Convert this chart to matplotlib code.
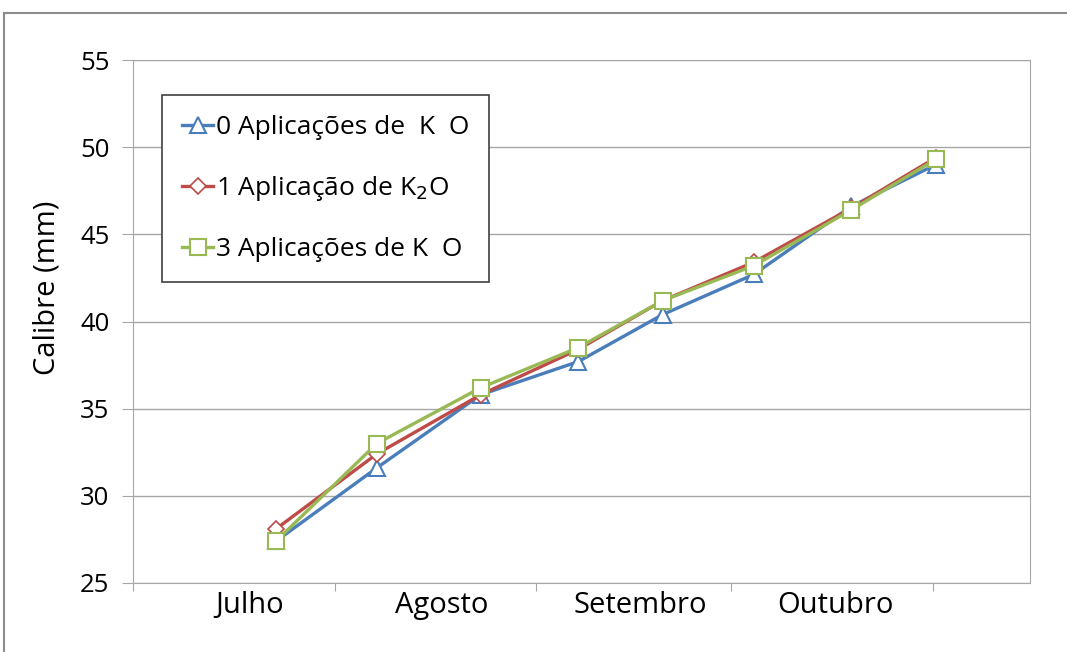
import matplotlib.pyplot as plt
from matplotlib.patches import Rectangle

# days counted from 1 July
dias = [22, 37.5, 53.5, 68.5, 81.5, 95.5, 110.5, 123.5]
zero_aplic = [27.4, 31.6, 35.8, 37.7, 40.4, 42.7, 46.6, 49.0]
uma_aplic = [28.1, 32.4, 35.8, 38.4, 41.2, 43.4, 46.5, 49.4]
tres_aplic = [27.4, 33.0, 36.2, 38.5, 41.2, 43.2, 46.4, 49.3]

inicio_mes = [0, 31, 62, 92, 123]
meses = ['Julho', 'Agosto', 'Setembro', 'Outubro']
pos_meses = [18, 47.5, 78, 108]

plt.rcParams['font.family'] = ['Open Sans', 'DejaVu Sans']

fig = plt.figure(figsize=(10.67, 6.52), dpi=100)
ax = fig.add_axes([133/1067, 69/652, 897/1067, 523/652])

ax.plot(dias, zero_aplic, color='#4A7EBB', lw=2.4, marker='^', ms=12,
        mfc='white', mec='#4A7EBB', mew=1.5, label='0 Aplicações de  K  O')
ax.plot(dias, uma_aplic, color='#BE4B48', lw=2.4, marker='D', ms=8.5,
        mfc='white', mec='#BE4B48', mew=1.2, label='1 Aplicação de K$_2$O')
ax.plot(dias, tres_aplic, color='#98B954', lw=2.4, marker='s', ms=11.5,
        mfc='white', mec='#98B954', mew=1.5, label='3 Aplicações de K  O')

ax.set_xlim(0, 138)
ax.set_ylim(25, 55)
ax.set_yticks(range(25, 56, 5))
ax.yaxis.grid(True, color='#A6A6A6', lw=1)
ax.set_axisbelow(True)

ax.set_xticks(inicio_mes)
ax.set_xticklabels([])
ax.set_xticks(pos_meses, minor=True)
ax.set_xticklabels(meses, minor=True, fontsize=21)
ax.tick_params(axis='x', which='minor', length=0, pad=6)
ax.tick_params(axis='x', which='major', length=6, color='#A6A6A6')
ax.tick_params(axis='y', length=8, color='#A6A6A6', labelsize=18.5, pad=9)

for s in ax.spines.values():
    s.set_color('#A6A6A6')

fig.text(47/1067, 1 - 288/652, 'Calibre (mm)', rotation=90, fontsize=21,
         ha='center', va='center')

leg = ax.legend(loc='upper left', bbox_to_anchor=(162/1067, 1 - 95/652),
                bbox_transform=fig.transFigure, fontsize=19, fancybox=False,
                framealpha=1, edgecolor='#404040', handlelength=1.2,
                handletextpad=0.1, labelspacing=1.3, borderpad=0.75,
                borderaxespad=0)
leg.get_frame().set_linewidth(1.2)

fig.patches.append(Rectangle((4/1067, -0.1), 2, 1.1 - 13/652,
                             transform=fig.transFigure, fill=False,
                             edgecolor='#8C8C8C', lw=1.5))

fig.savefig('out.png', dpi=100)
